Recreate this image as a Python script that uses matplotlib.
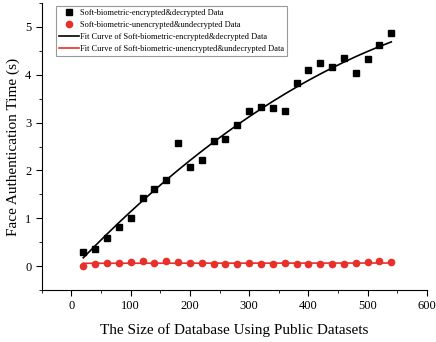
import matplotlib
matplotlib.use("Agg")
import matplotlib.pyplot as plt
from matplotlib.ticker import MultipleLocator
import numpy as np

plt.rcParams["font.family"] = ["Liberation Serif", "DejaVu Serif"]

db_size = np.arange(20, 541, 20)
enc_time = [0.30, 0.35, 0.58, 0.82, 1.01, 1.42, 1.62, 1.81, 2.58, 2.08,
            2.22, 2.61, 2.66, 2.96, 3.24, 3.32, 3.30, 3.25, 3.82, 4.10,
            4.24, 4.17, 4.35, 4.04, 4.33, 4.62, 4.87]
plain_time = [0.00, 0.05, 0.06, 0.07, 0.08, 0.10, 0.07, 0.11, 0.08, 0.06,
              0.07, 0.05, 0.05, 0.05, 0.06, 0.05, 0.05, 0.06, 0.04, 0.05,
              0.04, 0.04, 0.04, 0.07, 0.08, 0.10, 0.09]

enc_fit = np.polyval(np.polyfit(db_size, enc_time, 2), db_size)
plain_fit = np.polyval(np.polyfit(db_size, plain_time, 1), db_size)

fig = plt.figure(figsize=(4.36, 3.42), dpi=100)
ax = fig.add_axes([0.096, 0.152, 0.883, 0.839])

ax.plot(db_size, enc_time, "s", color="black", markersize=4.3,
        label="Soft-biometric-encrypted&decrypted Data", zorder=3)
ax.plot(db_size, plain_time, "o", color="#e8302a", markersize=4.5,
        label="Soft-biometric-unencrypted&undecrypted Data", zorder=3)
ax.plot(db_size, enc_fit, "-", color="black", linewidth=1.2,
        label="Fit Curve of Soft-biometric-encrypted&decrypted Data")
ax.plot(db_size, plain_fit, "-", color="#e8302a", linewidth=1.2,
        label="Fit Curve of Soft-biometric-unencrypted&undecrypted Data")

ax.set_xlim(-50, 600)
ax.set_ylim(-0.5, 5.5)
ax.xaxis.set_major_locator(MultipleLocator(100))
ax.xaxis.set_minor_locator(MultipleLocator(50))
ax.yaxis.set_major_locator(MultipleLocator(1))
ax.yaxis.set_minor_locator(MultipleLocator(0.5))
ax.spines["top"].set_visible(False)
ax.spines["right"].set_visible(False)
ax.tick_params(which="major", direction="out", length=4, labelsize=9)
ax.tick_params(which="minor", direction="out", length=2.5)

ax.set_xlabel("The Size of Database Using Public Datasets", fontsize=11, labelpad=8)
ax.set_ylabel("Face Authentication Time (s)", fontsize=11, labelpad=4)

leg = ax.legend(loc="upper left", bbox_to_anchor=(0.025, 1.005), fontsize=6,
                frameon=True, fancybox=False, edgecolor="gray",
                handlelength=2.4, borderpad=0.35, labelspacing=0.5,
                handletextpad=0.2)
leg.get_frame().set_linewidth(0.8)

fig.savefig("out.png", dpi=100)
